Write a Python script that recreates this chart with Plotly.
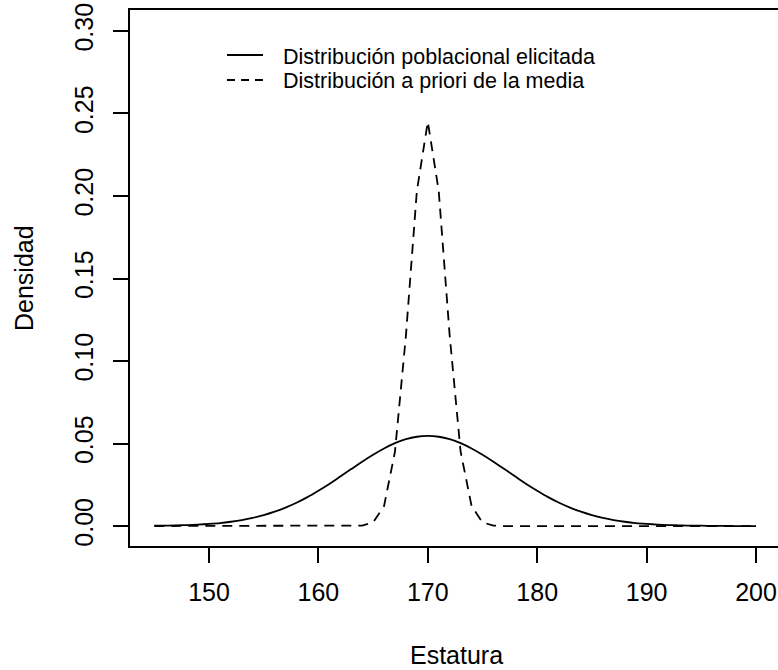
import plotly.graph_objects as go

estatura = [145, 146, 147, 148, 149, 150, 151, 152, 153, 154, 155, 156, 157, 158,
            159, 160, 161, 162, 163, 164, 165, 166, 167, 168, 169, 170, 171, 172,
            173, 174, 175, 176, 177, 178, 179, 180, 181, 182, 183, 184, 185, 186,
            187, 188, 189, 190, 191, 192, 193, 194, 195, 196, 197, 198, 199, 200]

dens_poblacional = [0.0002, 0.0002, 0.0004, 0.0006, 0.0009, 0.0013, 0.0018, 0.0026,
                    0.0036, 0.0049, 0.0066, 0.0087, 0.0112, 0.0141, 0.0175, 0.0214,
                    0.0255, 0.0300, 0.0345, 0.0390, 0.0432, 0.0470, 0.0502, 0.0526,
                    0.0541, 0.0546, 0.0541, 0.0526, 0.0502, 0.0470, 0.0432, 0.0390,
                    0.0345, 0.0300, 0.0255, 0.0214, 0.0175, 0.0141, 0.0112, 0.0087,
                    0.0066, 0.0049, 0.0036, 0.0026, 0.0018, 0.0013, 0.0009, 0.0006,
                    0.0004, 0.0002, 0.0002, 0.0001, 0.0001, 0.0000, 0.0000, 0.0000]

dens_priori = [0.0, 0.0, 0.0, 0.0, 0.0, 0.0, 0.0, 0.0, 0.0, 0.0, 0.0, 0.0, 0.0, 0.0,
               0.0, 0.0, 0.0, 0.0, 0.0, 0.0003, 0.0022, 0.0121, 0.0451, 0.1154,
               0.2030, 0.2450, 0.2030, 0.1154, 0.0451, 0.0121, 0.0022, 0.0003,
               0.0, 0.0, 0.0, 0.0, 0.0, 0.0, 0.0, 0.0, 0.0, 0.0, 0.0, 0.0, 0.0, 0.0,
               0.0, 0.0, 0.0, 0.0, 0.0, 0.0, 0.0, 0.0, 0.0, 0.0]

x_ticks = [150, 160, 170, 180, 190, 200]
y_ticks = [0.00, 0.05, 0.10, 0.15, 0.20, 0.25, 0.30]
y_ticklabels = ["0.00", "0.05", "0.10", "0.15", "0.20", "0.25", "0.30"]

legend_labels = ["Distribución poblacional elicitada", "Distribución a priori de la media"]

FONT = "Liberation Sans, Arial, sans-serif"
W, H = 778, 670
L, R, T, B = 130, 0, 10, 124
PW, PH = W - L - R, H - T - B


def px_x(p):
    return (p - L) / PW


def px_y(p):
    return (H - B - p) / PH


fig = go.Figure()
fig.add_trace(go.Scatter(x=estatura, y=dens_poblacional, mode="lines",
                         line=dict(color="black", width=1.8, shape="spline", smoothing=0.6),
                         name=legend_labels[0], showlegend=False))
fig.add_trace(go.Scatter(x=estatura, y=dens_priori, mode="lines",
                         line=dict(color="black", width=1.8, dash="10px,7px"),
                         name=legend_labels[1], showlegend=False))

# Legend (drawn manually, like R's legend with bty="n")
leg_y = [55, 80]
text_y = [57, 81]
dashes = ["solid", "8px,6px"]
for i in range(2):
    fig.add_shape(type="line", xref="paper", yref="paper",
                  x0=px_x(227), x1=px_x(263), y0=px_y(leg_y[i]), y1=px_y(leg_y[i]),
                  line=dict(color="black", width=1.8, dash=dashes[i]))
    fig.add_annotation(xref="paper", yref="paper", x=px_x(281), y=px_y(text_y[i]),
                       text=legend_labels[i], showarrow=False, xanchor="left",
                       yanchor="middle", font=dict(family=FONT, size=21.5, color="black"))

# Axis titles
fig.add_annotation(xref="paper", yref="paper", x=px_x(456), y=px_y(655),
                   text="Estatura", showarrow=False, xanchor="center", yanchor="middle",
                   font=dict(family=FONT, size=25, color="black"))
fig.add_annotation(xref="paper", yref="paper", x=px_x(24), y=px_y(278),
                   text="Densidad", showarrow=False, xanchor="center", yanchor="middle",
                   textangle=-90, font=dict(family=FONT, size=25, color="black"))

fig.update_layout(
    width=W, height=H,
    margin=dict(l=L, r=R, t=T, b=B),
    plot_bgcolor="white", paper_bgcolor="white",
    font=dict(family=FONT, size=25, color="black"),
    xaxis=dict(range=[142.78, 202.01], tickmode="array", tickvals=x_ticks,
               ticktext=[str(v) for v in x_ticks],
               showgrid=False, zeroline=False, showline=True, mirror=True,
               linecolor="black", linewidth=1.8, ticks="outside", ticklen=15,
               tickwidth=1.8, tickcolor="black", ticklabelstandoff=8,
               tickfont=dict(family=FONT, size=25, color="black")),
    yaxis=dict(range=[-0.0121, 0.3127], tickmode="array", tickvals=y_ticks,
               ticktext=y_ticklabels, tickangle=-90,
               showgrid=False, zeroline=False, showline=True, mirror=False,
               linecolor="black", linewidth=1.8, ticks="outside", ticklen=15,
               tickwidth=1.8, tickcolor="black", ticklabelstandoff=10,
               tickfont=dict(family=FONT, size=25, color="black")),
)

fig.write_html("out.html")
